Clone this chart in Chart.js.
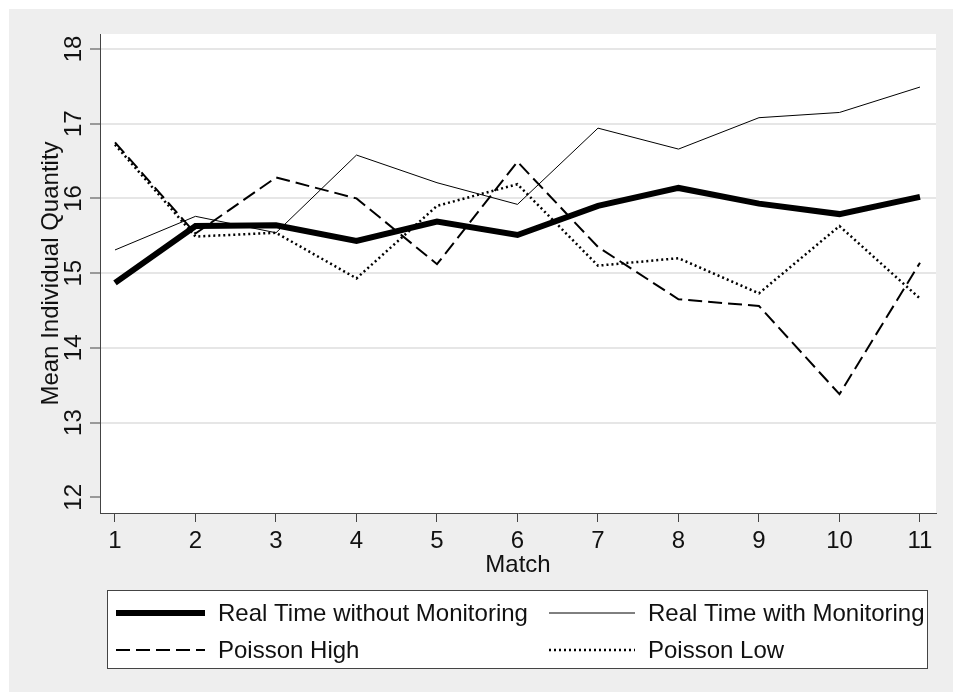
<!DOCTYPE html>
<html>
<head>
<meta charset="utf-8">
<title>Mean Individual Quantity by Match</title>
<script src="https://cdn.jsdelivr.net/npm/chart.js@4.4.1/dist/chart.umd.min.js"></script>
<style>
  html, body { margin: 0; padding: 0; background: #ffffff; }
  #wrap { width: 953px; height: 692px; }
</style>
</head>
<body>
<div id="wrap"><canvas id="quantityChart" width="953" height="692"></canvas></div>
<script>
// matches played and mean quantity per treatment
const matches = [1, 2, 3, 4, 5, 6, 7, 8, 9, 10, 11];
const realTimeNoMonitoring = [14.87, 15.63, 15.64, 15.43, 15.69, 15.51, 15.90, 16.14, 15.93, 15.79, 16.02];
const realTimeMonitoring = [15.31, 15.76, 15.54, 16.58, 16.21, 15.92, 16.94, 16.66, 17.08, 17.15, 17.49];
const poissonHigh = [16.75, 15.53, 16.28, 16.00, 15.12, 16.49, 15.35, 14.65, 14.56, 13.38, 15.14];
const poissonLow = [16.72, 15.49, 15.54, 14.93, 15.90, 16.19, 15.10, 15.20, 14.73, 15.63, 14.66];
const yTicks = [12, 13, 14, 15, 16, 17, 18];

const FONT = '"Liberation Sans", Arial, sans-serif';
const AXIS = '#444444';

function toPoints(values) {
    return values.map((v, i) => ({ x: matches[i], y: v }));
}

// background, axis labels and the legend box (Stata style)
const stataFrame = {
    id: 'stataFrame',
    beforeDraw(chart) {
        const ctx = chart.ctx;
        const a = chart.chartArea;
        ctx.save();
        ctx.fillStyle = '#ffffff';
        ctx.fillRect(0, 0, chart.width, chart.height);
        ctx.fillStyle = '#eeeeee';
        ctx.fillRect(9, 9, chart.width - 9, chart.height - 9);
        ctx.fillStyle = '#ffffff';
        ctx.fillRect(a.left, a.top, a.right - a.left, a.bottom - a.top);
        ctx.restore();
    },
    afterDraw(chart) {
        const ctx = chart.ctx;
        const a = chart.chartArea;
        const yScale = chart.scales.y;
        ctx.save();
        ctx.fillStyle = '#111111';
        ctx.font = '24px ' + FONT;

        // rotated y tick labels
        ctx.textAlign = 'center';
        ctx.textBaseline = 'alphabetic';
        yTicks.forEach(t => {
            ctx.save();
            ctx.translate(81, yScale.getPixelForValue(t));
            ctx.rotate(-Math.PI / 2);
            ctx.fillText(String(t), 0, 0);
            ctx.restore();
        });

        // y title
        ctx.save();
        ctx.translate(58, (a.top + a.bottom) / 2);
        ctx.rotate(-Math.PI / 2);
        ctx.fillText('Mean Individual Quantity', 0, 0);
        ctx.restore();

        // x title
        ctx.fillText('Match', (a.left + a.right) / 2, 572);

        // legend
        const box = { x: 107.5, y: 590.5, w: 820, h: 78 };
        ctx.fillStyle = '#ffffff';
        ctx.fillRect(box.x, box.y, box.w, box.h);
        ctx.strokeStyle = AXIS;
        ctx.lineWidth = 1;
        ctx.strokeRect(box.x, box.y, box.w, box.h);

        const slots = [
            { x0: 116, x1: 205, tx: 218, y: 613 },
            { x0: 549, x1: 635, tx: 648, y: 613 },
            { x0: 116, x1: 205, tx: 218, y: 650 },
            { x0: 549, x1: 635, tx: 648, y: 650 }
        ];
        chart.data.datasets.forEach((ds, i) => {
            const s = slots[i];
            ctx.save();
            ctx.strokeStyle = ds.borderColor;
            ctx.lineWidth = ds.borderWidth;
            ctx.setLineDash(ds.borderDash || []);
            ctx.beginPath();
            ctx.moveTo(s.x0, s.y);
            ctx.lineTo(s.x1, s.y);
            ctx.stroke();
            ctx.restore();
            ctx.fillStyle = '#111111';
            ctx.textAlign = 'left';
            ctx.textBaseline = 'middle';
            ctx.fillText(ds.label, s.tx, s.y + 1);
        });
        ctx.restore();
    }
};

const chart = new Chart(document.getElementById('quantityChart'), {
    type: 'line',
    data: {
        datasets: [
            {
                label: 'Real Time without Monitoring',
                data: toPoints(realTimeNoMonitoring),
                borderColor: '#000000',
                borderWidth: 6,
                borderDash: []
            },
            {
                label: 'Real Time with Monitoring',
                data: toPoints(realTimeMonitoring),
                borderColor: '#000000',
                borderWidth: 1,
                borderDash: []
            },
            {
                label: 'Poisson High',
                data: toPoints(poissonHigh),
                borderColor: '#000000',
                borderWidth: 2,
                borderDash: [14, 6]
            },
            {
                label: 'Poisson Low',
                data: toPoints(poissonLow),
                borderColor: '#000000',
                borderWidth: 2.5,
                borderDash: [2, 3]
            }
        ]
    },
    options: {
        responsive: false,
        animation: false,
        devicePixelRatio: 1,
        elements: {
            point: { radius: 0 },
            line: { tension: 0, fill: false }
        },
        layout: { padding: { left: 0, top: 34, right: 17, bottom: 99 } },
        plugins: {
            legend: { display: false },
            tooltip: { enabled: false }
        },
        scales: {
            x: {
                type: 'linear',
                min: 0.8137,
                max: 11.199,
                afterBuildTicks: s => { s.ticks = matches.map(v => ({ value: v })); },
                afterFit: s => { s.height = 80; },
                grid: {
                    drawOnChartArea: false,
                    tickColor: AXIS,
                    tickLength: 9,
                    tickWidth: 1
                },
                border: { color: AXIS, width: 1 },
                ticks: {
                    color: '#111111',
                    padding: 5,
                    maxRotation: 0,
                    font: { family: FONT, size: 24 }
                }
            },
            y: {
                min: 11.79,
                max: 18.2,
                afterBuildTicks: s => { s.ticks = yTicks.map(v => ({ value: v })); },
                afterFit: s => { s.width = 100; },
                grid: {
                    color: ctx => (ctx.tick && ctx.tick.value === 12 ? 'rgba(0,0,0,0)' : '#e6e6e6'),
                    lineWidth: 2,
                    tickColor: AXIS,
                    tickLength: 10,
                    tickWidth: 1
                },
                border: { color: AXIS, width: 1 },
                ticks: { display: false }
            }
        }
    },
    plugins: [stataFrame]
});
</script>
</body>
</html>
